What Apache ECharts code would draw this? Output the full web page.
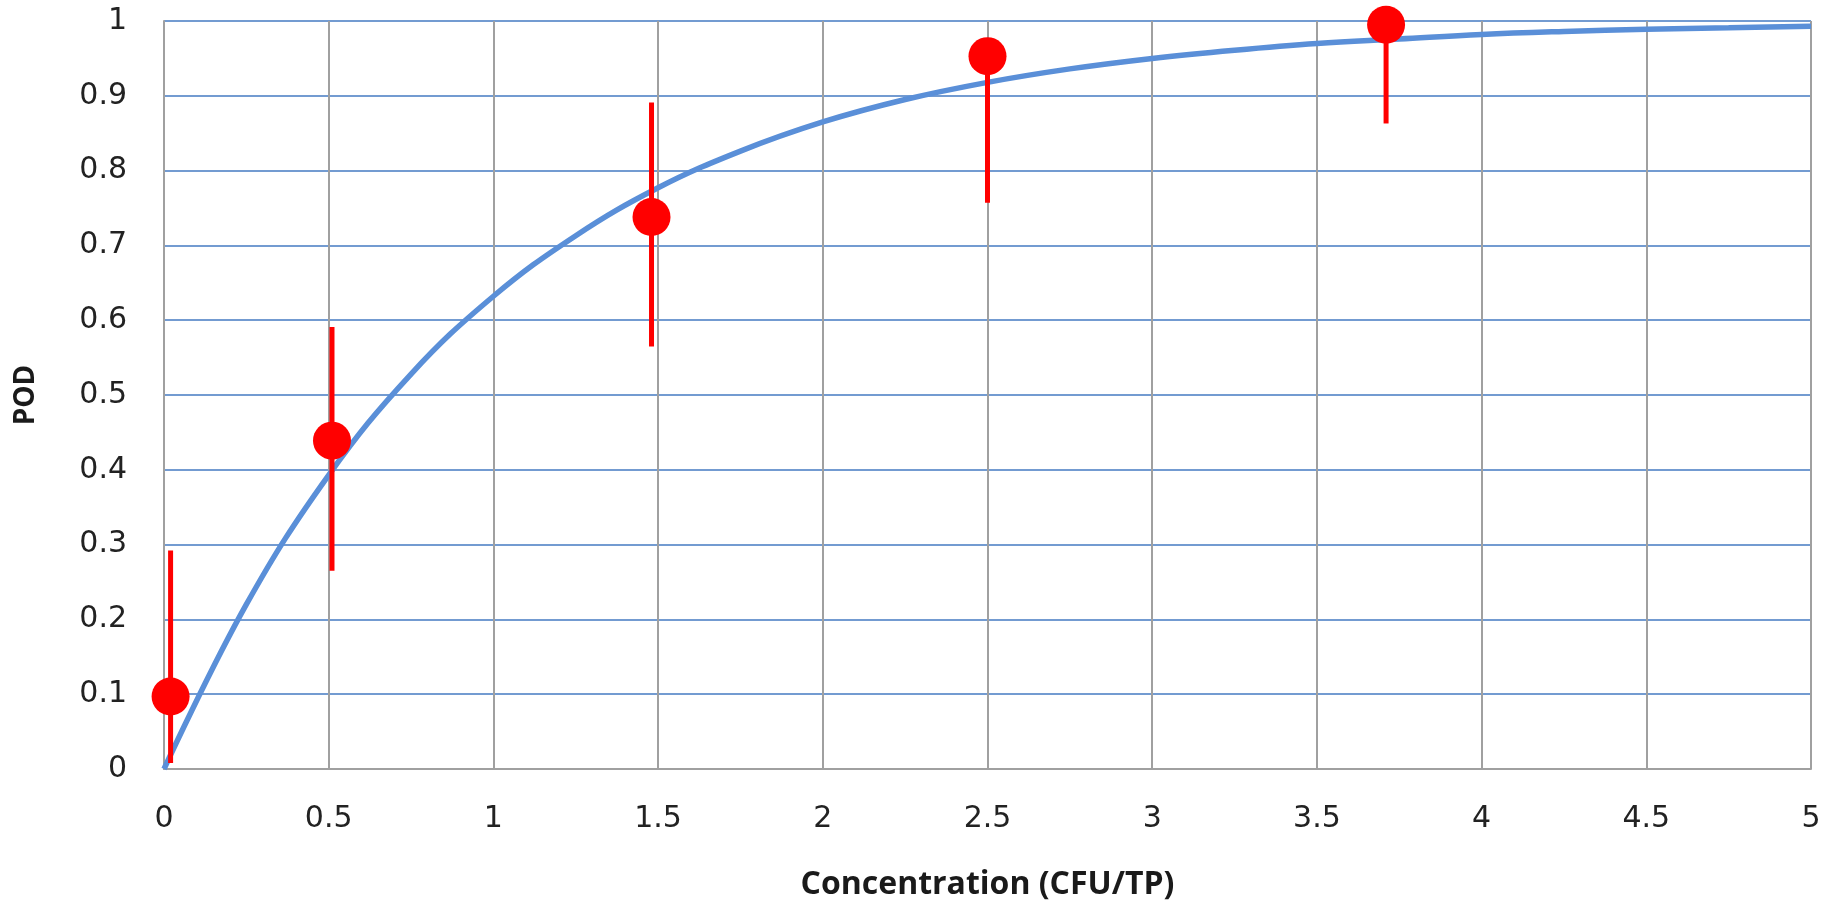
<!DOCTYPE html>
<html>
<head>
<meta charset="utf-8">
<script src="https://cdn.jsdelivr.net/npm/echarts@6/dist/echarts.min.js"></script>
<style>
html,body{margin:0;padding:0;background:#fff;}
#chart{width:1833px;height:903px;}
</style>
</head>
<body>
<div id="chart"></div>
<script>
// Observed POD points with confidence interval
var obsX    = [0.02, 0.51, 1.48, 2.50, 3.71];
var obsPOD  = [0.097, 0.439, 0.738, 0.953, 0.995];
var obsLow  = [0.008, 0.265, 0.565, 0.757, 0.863];
var obsHigh = [0.292, 0.591, 0.891, 0.975, 0.999];

// Fitted curve
var curveX   = [0, 0.25, 0.5, 0.75, 1, 1.25, 1.5, 1.75, 2, 2.25, 2.5, 2.75, 3, 3.25, 3.5, 3.75, 4, 4.25, 4.5, 4.75, 5];
var curvePOD = [0, 0.22, 0.393, 0.528, 0.632, 0.713, 0.777, 0.826, 0.865, 0.895, 0.918, 0.936, 0.950, 0.961, 0.970, 0.976, 0.982, 0.986, 0.989, 0.991, 0.993];

var xTicks = {min: 0, max: 5, interval: 0.5};
var yTicks = {min: 0, max: 1, interval: 0.1};

var curveData = curveX.map(function(x, i){ return [x, curvePOD[i]]; });
var pointData = obsX.map(function(x, i){ return [x, obsPOD[i]]; });
var errData = obsX.map(function(x, i){ return [x, obsLow[i], obsHigh[i]]; });

var chart = echarts.init(document.getElementById('chart'));
var font = 'DejaVu Sans';
chart.setOption({
  animation: false,
  backgroundColor: '#fff',
  grid: {left: 164, right: 22, top: 21, bottom: 134, containLabel: false, outerBoundsMode: 'none'},
  xAxis: {
    type: 'value', min: xTicks.min, max: xTicks.max, interval: xTicks.interval,
    name: 'Concentration (CFU/TP)', nameLocation: 'middle', nameGap: 100,
    nameTextStyle: {fontFamily: 'Open Sans', fontWeight: 'bold', fontSize: 32, color: '#1a1a1a'},
    axisLine: {show: true, lineStyle: {color: '#a0a0a0', width: 2}},
    axisTick: {show: false},
    axisLabel: {fontFamily: font, fontSize: 30, color: '#222', margin: 35},
    splitLine: {show: true, lineStyle: {color: '#a0a0a0', width: 2}}
  },
  yAxis: {
    type: 'value', min: yTicks.min, max: yTicks.max, interval: yTicks.interval,
    name: 'POD', nameLocation: 'middle', nameGap: 124, nameRotate: 90,
    nameTextStyle: {fontFamily: 'Open Sans', fontWeight: 'bold', fontSize: 28, color: '#1a1a1a'},
    axisLine: {show: true, lineStyle: {color: '#a0a0a0', width: 2}},
    axisTick: {show: false},
    axisLabel: {fontFamily: font, fontSize: 30, color: '#222', margin: 37},
    splitLine: {show: true, lineStyle: {color: '#739bd1', width: 2}}
  },
  series: [
    {
      type: 'line', data: curveData, smooth: 0.4, symbol: 'none', z: 2,
      lineStyle: {color: '#5a8fd8', width: 5.5}
    },
    {
      type: 'custom', z: 3, data: errData,
      renderItem: function(params, api){
        var p1 = api.coord([api.value(0), api.value(1)]);
        var p2 = api.coord([api.value(0), api.value(2)]);
        return {type: 'line', shape: {x1: p1[0], y1: p1[1], x2: p2[0], y2: p2[1]},
                style: {stroke: '#ff0000', lineWidth: 5}};
      }
    },
    {
      type: 'scatter', data: pointData, symbol: 'circle', symbolSize: 38, z: 4,
      itemStyle: {color: '#ff0000', opacity: 1}
    }
  ]
});
</script>
</body>
</html>
